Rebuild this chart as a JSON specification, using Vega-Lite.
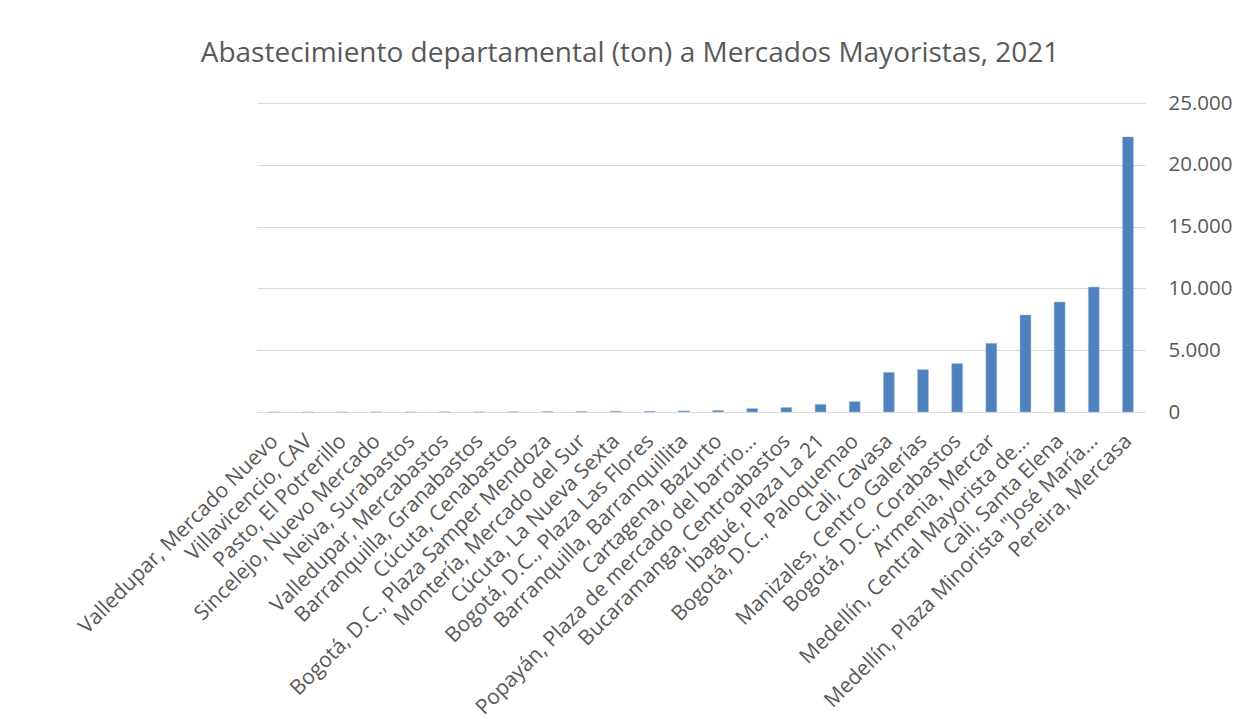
{
  "$schema": "https://vega.github.io/schema/vega-lite/v6.json",
  "autosize": "none",
  "width": 888,
  "height": 309,
  "padding": {"left": 257, "top": 103, "right": 95, "bottom": 307},
  "background": "#ffffff",
  "title": {
    "text": "Abastecimiento departamental (ton) a Mercados Mayoristas, 2021",
    "font": "Open Sans",
    "fontSize": 28,
    "fontWeight": "normal",
    "color": "#595959",
    "anchor": "middle",
    "dx": -71,
    "offset": 25
  },
  "data": {
    "values": [
      {"mercado": "Valledupar, Mercado Nuevo", "ton": 0.5},
      {"mercado": "Villavicencio, CAV", "ton": 1},
      {"mercado": "Pasto, El Potrerillo", "ton": 2},
      {"mercado": "Sincelejo, Nuevo Mercado", "ton": 3},
      {"mercado": "Neiva, Surabastos", "ton": 5},
      {"mercado": "Valledupar, Mercabastos", "ton": 8},
      {"mercado": "Barranquilla, Granabastos", "ton": 10},
      {"mercado": "Cúcuta, Cenabastos", "ton": 15},
      {"mercado": "Bogotá, D.C., Plaza Samper Mendoza", "ton": 40},
      {"mercado": "Montería, Mercado del Sur", "ton": 45},
      {"mercado": "Cúcuta, La Nueva Sexta", "ton": 60},
      {"mercado": "Bogotá, D.C., Plaza Las Flores", "ton": 65},
      {"mercado": "Barranquilla, Barranquillita", "ton": 90},
      {"mercado": "Cartagena, Bazurto", "ton": 130},
      {"mercado": "Popayán, Plaza de mercado del barrio…", "ton": 280},
      {"mercado": "Bucaramanga, Centroabastos", "ton": 360},
      {"mercado": "Ibagué, Plaza La 21", "ton": 620},
      {"mercado": "Bogotá, D.C., Paloquemao", "ton": 840},
      {"mercado": "Cali, Cavasa", "ton": 3210},
      {"mercado": "Manizales, Centro Galerías", "ton": 3430},
      {"mercado": "Bogotá, D.C., Corabastos", "ton": 3920},
      {"mercado": "Armenia, Mercar", "ton": 5560},
      {"mercado": "Medellín, Central Mayorista de…", "ton": 7850},
      {"mercado": "Cali, Santa Elena", "ton": 8900},
      {"mercado": "Medellín, Plaza Minorista \"José María…", "ton": 10110},
      {"mercado": "Pereira, Mercasa", "ton": 22250}
    ]
  },
  "mark": {"type": "bar", "color": "#4f81bd", "stroke": "#a9c0de", "strokeWidth": 0.5},
  "encoding": {
    "x": {
      "field": "mercado",
      "type": "nominal",
      "sort": null,
      "scale": {"paddingInner": 0.68, "paddingOuter": 0.34},
      "axis": {
        "title": null,
        "labelAngle": -45,
        "labelFont": "Open Sans",
        "labelFontSize": 21,
        "labelColor": "#595959",
        "labelLimit": 500,
        "labelPadding": 18,
        "labelOffset": -7,
        "ticks": false,
        "domain": true,
        "domainColor": "#d9d9d9",
        "grid": false
      }
    },
    "y": {
      "field": "ton",
      "type": "quantitative",
      "scale": {"domain": [0, 25000]},
      "axis": {
        "title": null,
        "orient": "right",
        "values": [0, 5000, 10000, 15000, 20000, 25000],
        "labelExpr": "replace(format(datum.value, ','), ',', '.')",
        "labelFont": "Open Sans",
        "labelFontSize": 20.5,
        "labelColor": "#595959",
        "labelPadding": 23,
        "ticks": false,
        "domain": false,
        "grid": true,
        "gridColor": "#d9d9d9",
        "gridWidth": 1
      }
    }
  },
  "config": {"view": {"stroke": null}}
}
